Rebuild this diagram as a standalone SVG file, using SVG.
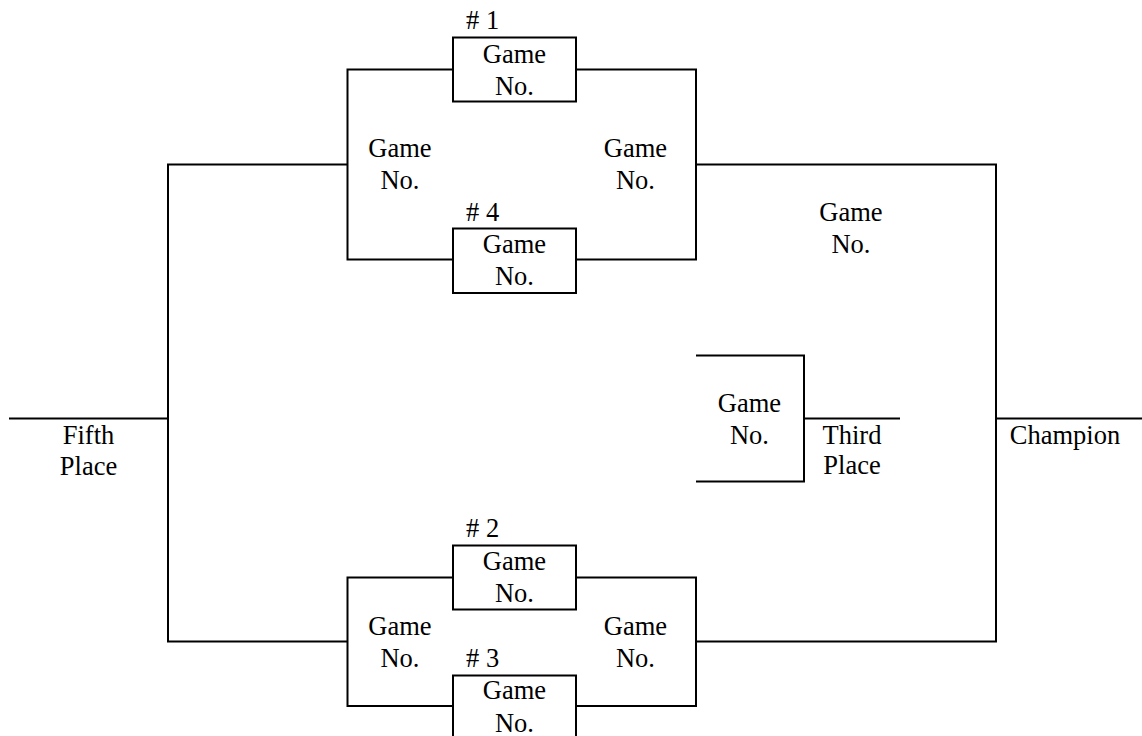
<svg xmlns="http://www.w3.org/2000/svg" width="1142" height="736" viewBox="0 0 1142 736">
<style>
.l{fill:none;stroke:#000;stroke-width:2}
.b{fill:#fff;stroke:#000;stroke-width:2}
text{font-family:"Liberation Serif","Times New Roman",serif;font-size:26.5px;fill:#000;text-anchor:middle}
.s{text-anchor:start}
</style>
<rect width="1142" height="736" fill="#fff"/>
<g id="connectors">
<path class="l" d="M453,69.5 H347.5 V259.5 H453"/>
<path class="l" d="M576,69.5 H696 V259.5 H576"/>
<path class="l" d="M347.5,164.5 H168 V641.5 H347.5"/>
<path class="l" d="M9,418.5 H168"/>
<path class="l" d="M453,577.5 H347.5 V706 H453"/>
<path class="l" d="M576,577.5 H696 V706 H576"/>
<path class="l" d="M696,164.5 H996 V641.5 H696"/>
<path class="l" d="M996,418.5 H1142"/>
<path class="l" d="M696,355.5 H804 V481.5 H696"/>
<path class="l" d="M804,418.5 H900"/>
</g>
<g id="game1">
<text class="s" x="466" y="29">#&#160;1</text>
<rect class="b" x="453" y="37.5" width="123" height="64"/>
<text x="514.5" y="62.5">Game</text>
<text x="514.5" y="95">No.</text>
</g>
<g id="game4">
<text class="s" x="466" y="220.5">#&#160;4</text>
<rect class="b" x="453" y="228.5" width="123" height="64.5"/>
<text x="514.5" y="252.5">Game</text>
<text x="514.5" y="285">No.</text>
</g>
<g id="game2">
<text class="s" x="466" y="537">#&#160;2</text>
<rect class="b" x="453" y="545.5" width="123" height="64"/>
<text x="514.5" y="570">Game</text>
<text x="514.5" y="601.5">No.</text>
</g>
<g id="game3">
<text class="s" x="466" y="666.5">#&#160;3</text>
<rect class="b" x="453" y="675.5" width="123" height="70"/>
<text x="514.5" y="699">Game</text>
<text x="514.5" y="731.5">No.</text>
</g>
<g id="semi-top-left"><text x="400" y="157">Game</text><text x="400" y="189">No.</text></g>
<g id="semi-top-right"><text x="635.5" y="157">Game</text><text x="635.5" y="189">No.</text></g>
<g id="semi-bottom-left"><text x="400" y="635">Game</text><text x="400" y="666.5">No.</text></g>
<g id="semi-bottom-right"><text x="635.5" y="635">Game</text><text x="635.5" y="666.5">No.</text></g>
<g id="final"><text x="851" y="220.5">Game</text><text x="851" y="252.5">No.</text></g>
<g id="third-game"><text x="749.5" y="411.5">Game</text><text x="749.5" y="444">No.</text></g>
<g id="third-place"><text x="852" y="444">Third</text><text x="852" y="474">Place</text></g>
<g id="fifth-place"><text x="88.5" y="444">Fifth</text><text x="88.5" y="475">Place</text></g>
<g id="champion"><text x="1065" y="444">Champion</text></g>
</svg>
